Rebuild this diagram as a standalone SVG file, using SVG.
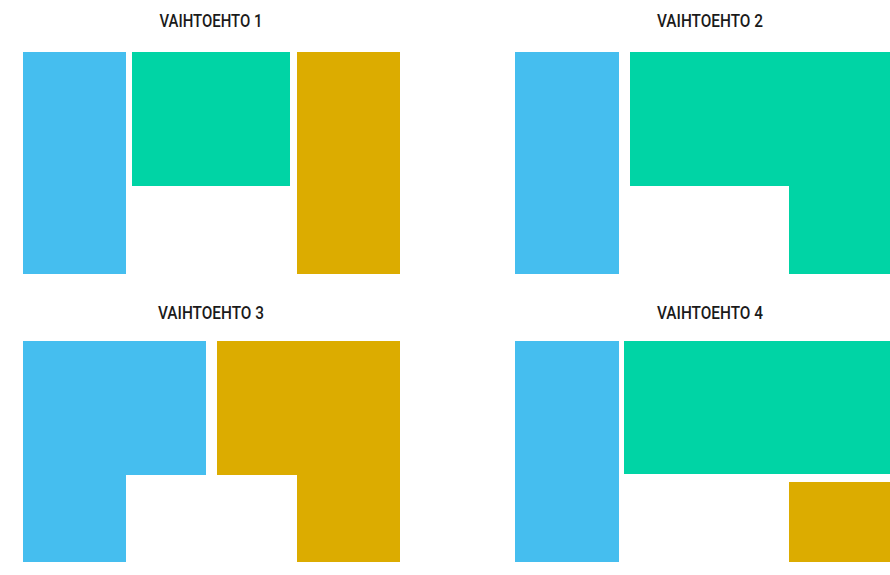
<svg xmlns="http://www.w3.org/2000/svg" width="890" height="575" viewBox="0 0 890 575">
<style>
.b{fill:#45BEEF}.g{fill:#00D4A5}.y{fill:#DCAC00}
.t{font-family:Roboto,"Liberation Sans",sans-serif;font-size:18px;font-weight:500;fill:#1a1a1a;text-anchor:middle}
</style>
<rect width="890" height="575" fill="#fff"/>
<g id="vaihtoehto1">
<text class="t" x="211" y="26.5" textLength="103" lengthAdjust="spacingAndGlyphs">VAIHTOEHTO 1</text>
<rect class="b" x="23" y="52" width="103" height="222"/>
<rect class="g" x="132" y="52" width="158" height="134"/>
<rect class="y" x="297" y="52" width="103" height="222"/>
</g>
<g id="vaihtoehto2">
<text class="t" x="710" y="26.5" textLength="106" lengthAdjust="spacingAndGlyphs">VAIHTOEHTO 2</text>
<rect class="b" x="515" y="52" width="104" height="222"/>
<path class="g" d="M630 52H890V274H789V186H630Z"/>
</g>
<g id="vaihtoehto3">
<text class="t" x="211" y="319" textLength="106" lengthAdjust="spacingAndGlyphs">VAIHTOEHTO 3</text>
<path class="b" d="M23 341H206V475H126V562H23Z"/>
<path class="y" d="M217 341H400V562H297V475H217Z"/>
</g>
<g id="vaihtoehto4">
<text class="t" x="710" y="319" textLength="106" lengthAdjust="spacingAndGlyphs">VAIHTOEHTO 4</text>
<rect class="b" x="515" y="341" width="104" height="221"/>
<rect class="g" x="624" y="341" width="266" height="133"/>
<rect class="y" x="789" y="482" width="101" height="80"/>
</g>
<g id="connectors"/>
</svg>
